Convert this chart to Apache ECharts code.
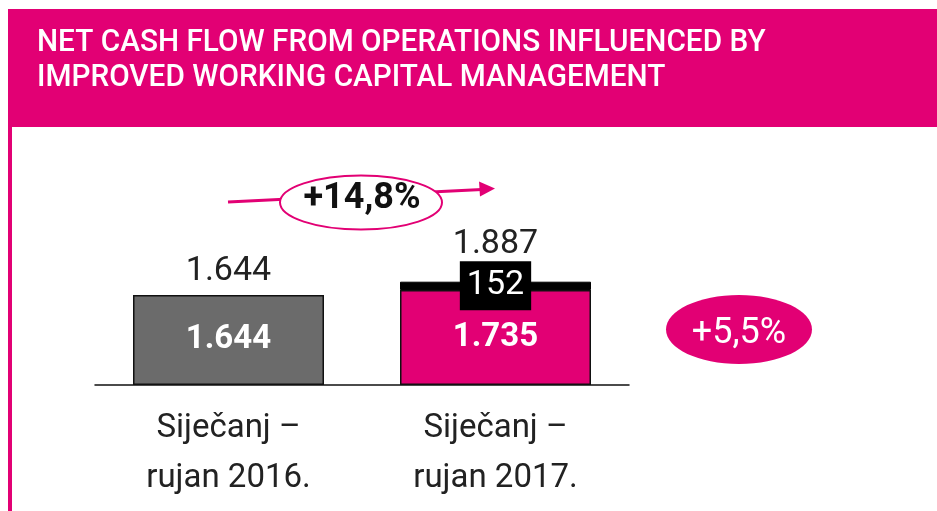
<!DOCTYPE html>
<html>
<head>
<meta charset="utf-8">
<script src="https://cdn.jsdelivr.net/npm/echarts@6/dist/echarts.min.js"></script>
<style>html,body{margin:0;padding:0;background:#fff;}#c{width:937px;height:511px;}</style>
</head>
<body>
<div id="c"></div>
<script>
const categories = ['Siječanj –\nrujan 2016.', 'Siječanj –\nrujan 2017.'];
const baseValues = [1644, 1735];
const increaseValues = [null, 152];
const totalValues = [1644, 1887];
const titleLines = ['NET CASH FLOW FROM OPERATIONS INFLUENCED BY', 'IMPROVED WORKING CAPITAL MANAGEMENT'];
const growthLabel = '+14,8%';
const shareLabel = '+5,5%';

const MAG = '#e20074';
const FONT = 'Roboto, "Noto Sans", sans-serif';
const fmt = v => v >= 1000 ? Math.floor(v/1000) + '.' + String(v % 1000).padStart(3, '0') : String(v);

const chart = echarts.init(document.getElementById('c'), null, {renderer: 'canvas'});
const baseColors = ['#6b6b6b', MAG];
const totalDist = [7, 20];

chart.setOption({
  animation: false,
  backgroundColor: '#fff',
  grid: {left: 95, right: 937 - 629, top: 385 - 6000 * 90 / 1644, bottom: 511 - 385},
  xAxis: {
    type: 'category', data: categories,
    axisLine: {show: true, lineStyle: {color: '#111', width: 1.5}},
    axisTick: {show: false},
    axisLabel: {color: '#222', fontFamily: FONT, fontSize: 33, lineHeight: 50, margin: 19}
  },
  yAxis: {type: 'value', min: 0, max: 6000, show: false, splitLine: {show: false}},
  series: [
    {
      type: 'bar', name: 'total', barWidth: 191, barGap: '-100%', z: 1,
      data: totalValues.map((v, i) => ({value: v, label: {distance: totalDist[i]}})),
      itemStyle: {color: 'rgba(0,0,0,0)'},
      label: {show: true, position: 'top', color: '#222', fontFamily: FONT, fontSize: 34,
              formatter: p => fmt(p.value)}
    },
    {
      type: 'bar', name: 'base', stack: 's', barWidth: 191, z: 2,
      data: baseValues.map((v, i) => ({value: v, itemStyle: {color: baseColors[i]}})),
      itemStyle: {borderColor: '#111', borderWidth: 1.5},
      label: {show: true, position: 'inside', color: '#fff', fontFamily: FONT, fontSize: 33, fontWeight: 'bold',
              formatter: p => fmt(p.value)}
    },
    {
      type: 'bar', name: 'increase', stack: 's', barWidth: 191, z: 3,
      data: increaseValues,
      itemStyle: {color: '#000', borderColor: '#000', borderWidth: 1},
      label: {show: true, position: 'inside', color: '#fff', fontFamily: FONT, fontSize: 34,
              backgroundColor: '#000', padding: [6, 7, 6, 7], lineHeight: 37,
              formatter: p => fmt(p.value)}
    }
  ],
  graphic: [
    {type: 'rect', z: -10, shape: {x: 8, y: 9, width: 929, height: 118}, style: {fill: MAG}, silent: true},
    {type: 'rect', z: -10, shape: {x: 8, y: 127, width: 4, height: 384}, style: {fill: MAG}, silent: true},
    {type: 'text', z: 5, x: 37, y: 25, scaleX: 0.93, style: {text: titleLines.join('\n'), fill: '#fff', font: '500 32px ' + FONT, lineHeight: 35, align: 'left', verticalAlign: 'top'}},
    {type: 'line', z: 10, shape: {x1: 228, y1: 202, x2: 482, y2: 189.5}, style: {stroke: MAG, lineWidth: 3}},
    {type: 'polygon', z: 10, shape: {points: [[479, 181.5], [495, 188.5], [480, 196.5]]}, style: {fill: MAG}},
    {type: 'ellipse', z: 11, shape: {cx: 361, cy: 202.5, rx: 81, ry: 27}, style: {fill: '#fff', stroke: MAG, lineWidth: 2}},
    {type: 'text', z: 12, x: 362, y: 199, style: {text: growthLabel, fill: '#111', font: 'bold 36px ' + FONT, align: 'center', verticalAlign: 'middle'}},
    {type: 'ellipse', z: 11, shape: {cx: 739, cy: 329.5, rx: 73, ry: 34.5}, style: {fill: MAG}},
    {type: 'text', z: 12, x: 739, y: 334, style: {text: shareLabel, fill: '#fff', font: '36px ' + FONT, align: 'center', verticalAlign: 'middle'}}
  ]
});
</script>
</body>
</html>
